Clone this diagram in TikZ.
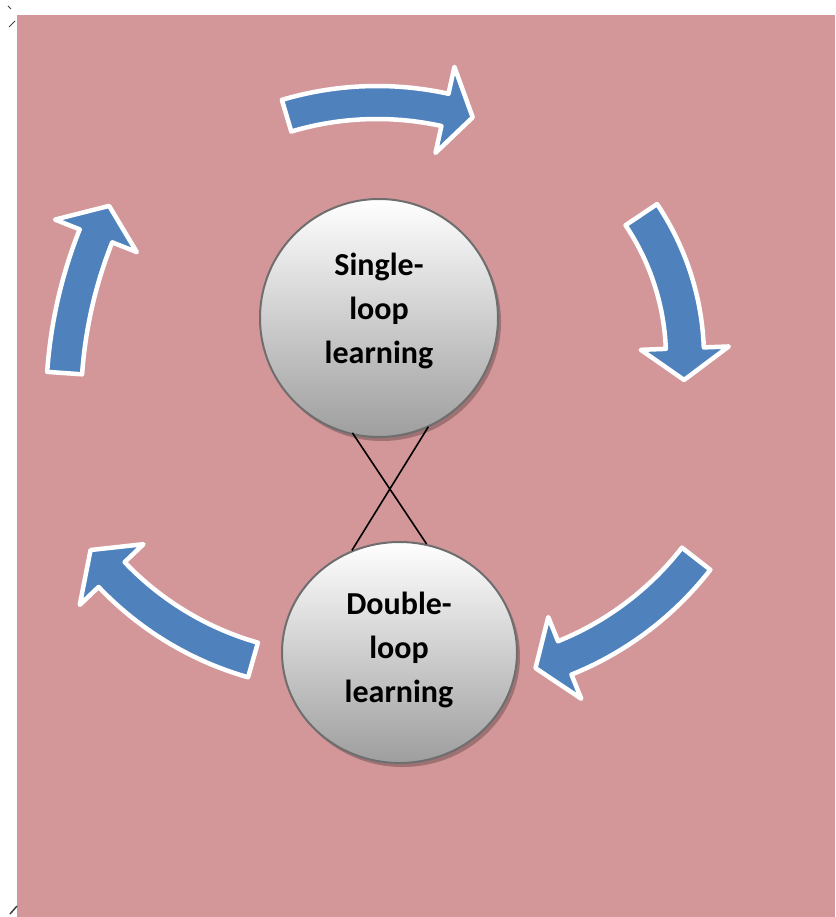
\documentclass[tikz,border=0pt]{standalone}
\usepackage{fontspec}
\setmainfont{Carlito}
\usetikzlibrary{shapes.geometric,shadows}
\definecolor{bgpink}{RGB}{211,151,154}
\definecolor{arrblue}{RGB}{79,129,189}
\definecolor{circedge}{RGB}{110,110,110}
\definecolor{circbot}{RGB}{158,158,158}
% #1,#2 centre; #3 inner radius; #4 outer radius; #5 tail angle; #6 head base angle; #7 tip angle
\newcommand{\bendarrow}[7]{%
  \draw[blockarrow]
    plot[domain=#5:#6, samples=40] ({#1+#4*cos(\x)},{#2+#4*sin(\x)})
    -- ({#1+((#3+#4)/2+44)*cos(#6)},{#2+((#3+#4)/2+44)*sin(#6)})
    -- ({#1+((#3+#4)/2)*cos(#7)},{#2+((#3+#4)/2)*sin(#7)})
    -- ({#1+((#3+#4)/2-44)*cos(#6)},{#2+((#3+#4)/2-44)*sin(#6)})
    -- plot[domain=#6:#5, samples=40] ({#1+#3*cos(\x)},{#2+#3*sin(\x)})
    -- cycle;}
\begin{document}
\begin{tikzpicture}[x=1pt,y=-1pt,
  blockarrow/.style={fill=arrblue, draw=white, line width=4.5pt, line join=round},
  bubble/.style={draw=circedge, line width=2pt, top color=white, bottom color=circbot,
    drop shadow={shadow xshift=3pt, shadow yshift=-4pt, opacity=0.25, fill=black}},
  bubbletext/.style={font=\bfseries\fontsize{32}{44}\selectfont, align=center, text=black},
  crossline/.style={black, line width=1.6pt},
  handle/.style={line width=1pt, black!75}]
\useasboundingbox (0,0) rectangle (835,917);
\fill[bgpink] (17,15) rectangle (835,917);
% corner handles
\draw[handle] (8,6) -- (11,9);
\draw[handle] (9,27) -- (15,21);
\draw[handle, line width=1.5pt] (10,914) -- (17,906);
% curved block arrows (clockwise cycle)
\bendarrow{377}{419}{300}{333}{-106.6}{-77.6}{-72.4}
\bendarrow{428}{358}{238}{276}{-33.9}{-2.2}{4.9}
\bendarrow{446}{364}{299}{335}{37.9}{68}{73.6}
\bendarrow{339}{358}{296}{332}{105.9}{136.4}{142.3}
\bendarrow{521}{405}{440}{475}{-176}{-158.3}{-154.2}
% bubbles
\node[bubble, circle, minimum size=238pt, inner sep=0pt] (s) at (379,318) {};
\node[bubble, ellipse, minimum width=235pt, minimum height=221pt, inner sep=0pt] (d) at (399.5,652.5) {};
\node[bubbletext] (st) at (379,311) {Single-\\loop\\learning};
\node[bubbletext] (dt) at (399,650) {Double-\\loop\\learning};
% cross connectors
\draw[crossline, shorten <=-3pt] (s.-102) -- (d.76);
\draw[crossline, shorten <=-1pt] (s.-66) -- (d.115);
\end{tikzpicture}
\end{document}
